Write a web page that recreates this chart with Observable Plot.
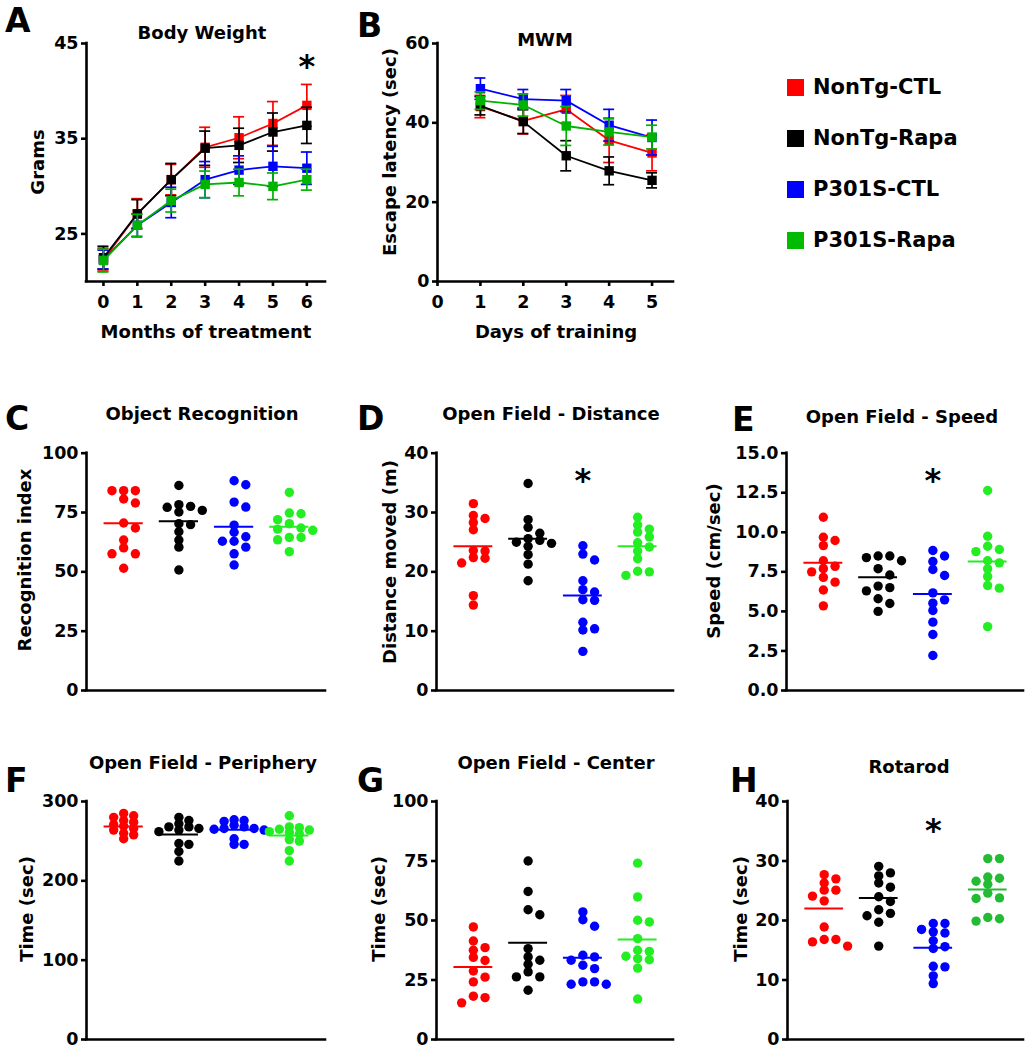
<!DOCTYPE html>
<html><head><meta charset="utf-8">
<script src="https://cdn.jsdelivr.net/npm/d3@7"></script>
<script src="https://cdn.jsdelivr.net/npm/@observablehq/plot@0.6"></script>
<style>
body{margin:0;background:#fff;}
#root{position:relative;width:1031px;height:1050px;overflow:hidden;background:#fff;font-family:"DejaVu Sans",sans-serif;font-weight:bold;color:#000;}
.t{position:absolute;white-space:nowrap;line-height:1;}
.panel{position:absolute;}
</style></head><body><div id="root"></div>
<script>
// ---------- data ----------
const groups = ["NonTg-CTL", "NonTg-Rapa", "P301S-CTL", "P301S-Rapa"];
const lineColors = ["#ff0000", "#000000", "#0000ff", "#00b300"];
const dotColors = ["#ff0000", "#000000", "#0000ff", "#22ee22"];
const rotarodColors = ["#ff0000", "#000000", "#0000ff", "#22bb33"];

// A: Body Weight
const months = [0, 1, 2, 3, 4, 5, 6];
const weightMean = [
  [22.3, 27.1, 30.7, 34.1, 35.1, 36.6, 38.5],
  [22.5, 27.1, 30.7, 34.0, 34.3, 35.7, 36.4],
  [22.3, 25.9, 28.3, 30.7, 31.7, 32.1, 31.9],
  [22.2, 25.9, 28.5, 30.2, 30.4, 30.0, 30.7]
];
const weightSem = [
  [1.2, 1.6, 1.6, 2.1, 2.2, 2.3, 2.2],
  [1.2, 1.5, 1.7, 1.8, 1.8, 2.0, 1.9],
  [1.0, 1.2, 1.6, 1.9, 1.5, 2.1, 1.7],
  [1.2, 1.15, 1.2, 1.4, 1.4, 1.4, 1.1]
];
const monthTicks = [0, 1, 2, 3, 4, 5, 6];
const weightTicks = [25, 35, 45];

// B: MWM
const days = [1, 2, 3, 4, 5];
const latencyMean = [
  [44.1, 40.5, 43.4, 35.6, 32.4],
  [44.3, 40.3, 31.7, 27.9, 25.5],
  [48.6, 46.0, 45.6, 39.4, 36.3],
  [45.6, 44.5, 39.2, 37.7, 36.4]
];
const latencySem = [
  [2.8, 3.3, 3.5, 5.6, 4.5],
  [2.3, 3.0, 3.8, 3.5, 1.9],
  [2.7, 2.4, 2.8, 4.0, 4.4],
  [2.2, 2.8, 4.9, 3.3, 3.0]
];
const dayTicks = [0, 1, 2, 3, 4, 5];
const latencyTicks = [0, 20, 40, 60];

// C: Object Recognition
const objRec = [
  [84.2, 84.2, 84.2, 80.7, 79.0, 70.6, 68.5, 63.4, 60.1, 57.6, 57.6, 51.5],
  [86.4, 78.3, 77.6, 77.2, 75.9, 75.2, 70.3, 69.9, 66.9, 63.4, 60.4, 50.8],
  [88.4, 86.7, 79.4, 77.3, 69.7, 66.7, 64.8, 62.9, 62.9, 60.4, 57.6, 52.9],
  [83.5, 74.8, 74.5, 72.0, 70.3, 68.5, 68.0, 67.5, 64.5, 64.5, 63.5, 58.5]
];
const objRecMean = [70.5, 71.3, 69.0, 69.0];
const pctTicks = [0, 25, 50, 75, 100];

// D: Open Field - Distance
const distance = [
  [31.5, 29.5, 29.0, 28.3, 27.1, 23.6, 23.5, 22.4, 22.3, 21.5, 16.0, 14.4],
  [34.9, 28.8, 27.5, 26.5, 25.6, 25.3, 25.0, 24.8, 24.3, 22.9, 21.3, 18.5],
  [24.4, 23.0, 22.0, 18.5, 17.0, 16.6, 15.3, 15.2, 11.5, 10.4, 10.2, 6.6],
  [29.2, 27.9, 27.2, 26.7, 25.9, 24.9, 24.2, 23.5, 22.2, 20.1, 20.0, 19.4]
];
const distanceMean = [24.3, 25.6, 16.0, 24.3];
const tensTicks = [0, 10, 20, 30, 40];

// E: Open Field - Speed
const speed = [
  [10.95, 9.69, 9.48, 9.16, 8.2, 7.85, 7.7, 7.5, 7.15, 6.85, 6.35, 5.35],
  [8.5, 8.5, 8.4, 8.2, 7.7, 7.3, 6.6, 6.5, 6.3, 5.8, 5.5, 5.0],
  [8.85, 8.5, 8.15, 7.65, 7.27, 6.17, 5.73, 5.52, 5.06, 4.32, 3.54, 2.21],
  [12.64, 9.75, 9.12, 8.91, 8.78, 8.2, 8.07, 7.69, 7.2, 6.64, 6.47, 4.04]
];
const speedMean = [8.07, 7.16, 6.1, 8.15];
const speedTicks = [0, 2.5, 5, 7.5, 10, 12.5, 15];

// F: Open Field - Periphery
const periphery = [
  [285, 282, 280, 276, 274, 271, 269, 266, 264, 260, 258, 253],
  [280, 276, 272, 268, 268, 266, 264, 262, 247, 246, 237, 225],
  [277, 276, 275, 270, 268, 266, 266, 265, 264, 253, 246, 246],
  [282, 268, 267, 265, 264, 262, 261, 259, 252, 250, 238, 225]
];
const peripheryMean = [268.6, 258.5, 264.4, 257.2];
const peripheryTicks = [0, 100, 200, 300];

// G: Open Field - Center
const center = [
  [47.3, 41.4, 38.6, 37.5, 34.5, 33.2, 28.8, 26.2, 24.2, 18.2, 17.6, 15.4],
  [75.0, 62.2, 54.5, 52.4, 38.2, 34.7, 33.3, 31.6, 28.4, 26.3, 26.3, 20.7],
  [53.6, 50.3, 47.6, 35.4, 34.7, 33.3, 31.2, 29.8, 24.2, 24.2, 23.2, 23.2],
  [74.1, 59.9, 50.1, 49.4, 42.4, 37.5, 37.0, 35.0, 34.0, 33.5, 30.0, 17.0]
];
const centerMean = [30.5, 40.6, 34.4, 42.0];

// H: Rotarod
const rotarod = [
  [27.7, 27.0, 26.3, 25.1, 25.1, 24.1, 23.3, 18.9, 16.8, 16.8, 16.4, 15.7],
  [29.1, 28.0, 27.5, 26.3, 25.6, 24.0, 23.2, 21.8, 21.2, 20.8, 19.7, 15.7],
  [19.5, 19.5, 18.5, 18.1, 17.9, 16.6, 15.6, 15.3, 12.3, 12.2, 10.7, 9.4],
  [30.4, 30.4, 27.3, 27.1, 26.6, 26.1, 24.6, 23.8, 23.7, 20.5, 20.3, 19.9]
];
const rotarodMean = [22.0, 23.8, 15.4, 25.2];

// significance marks (x = month / group index, y = value)
const starA = [{x: 6, y: 43.3}];
const starD = [{x: 2, y: 36.5}];
const starE = [{x: 2, y: 13.7}];
const starH = [{x: 2, y: 36.3}];

// ---------- helpers ----------
const root = document.getElementById("root");
const FONT = "'DejaVu Sans', sans-serif";

function addText(txt, x, y, size, opts = {}) {
  const d = document.createElement("div");
  d.className = "t";
  d.textContent = txt;
  d.style.fontSize = size + "px";
  d.style.left = x + "px";
  d.style.top = y + "px";
  const tx = opts.anchor === "start" ? "0" : "-50%";
  d.style.transform = `translate(${tx},-50%)` + (opts.rotate ? ` rotate(${opts.rotate}deg)` : "");
  root.appendChild(d);
}

function place(svg, left, top, width, height) {
  const w = document.createElement("div");
  w.className = "panel";
  w.style.left = left + "px";
  w.style.top = top + "px";
  w.style.width = width + "px";
  w.style.height = height + "px";
  w.appendChild(svg);
  root.appendChild(w);
}

const plotStyle = {fontFamily: FONT, fontWeight: "bold", fontSize: "17px", overflow: "visible", background: "transparent"};
const AXW = 2.6;

function axes(xDomain, yDomain, yTicks, yFmt) {
  return [
    Plot.ruleY([yDomain[0]], {x1: xDomain[0], x2: xDomain[1], strokeWidth: AXW, strokeLinecap: "square"}),
    Plot.ruleX([xDomain[0]], {y1: yDomain[0], y2: yDomain[1], strokeWidth: AXW, strokeLinecap: "square"}),
    Plot.axisY({ticks: yTicks, tickSize: 5, tickPadding: 3, strokeWidth: AXW, fontSize: 17.5, fontWeight: "bold", tickFormat: yFmt, label: null})
  ];
}

function linePanel(o) {
  const marks = [...axes(o.xDomain, o.yDomain, o.yTicks),
    Plot.axisX({ticks: o.xTicks, tickSize: 5, tickPadding: 9, strokeWidth: AXW, fontSize: 17.5, fontWeight: "bold", tickFormat: d => String(d), label: null})];
  o.means.forEach((ms, g) => {
    const rows = o.xs.map((x, i) => ({x, m: ms[i], e: o.sems[g][i]}));
    const c = o.colors[g];
    marks.push(
      Plot.line(rows, {x: "x", y: "m", stroke: c, strokeWidth: 1.8}),
      Plot.ruleX(rows, {x: "x", y1: d => d.m - d.e, y2: d => d.m + d.e, stroke: c, strokeWidth: 1.7}),
      Plot.ruleY(rows, {x1: d => d.x - o.cap, x2: d => d.x + o.cap, y: d => d.m + d.e, stroke: c, strokeWidth: 1.7}),
      Plot.ruleY(rows, {x1: d => d.x - o.cap, x2: d => d.x + o.cap, y: d => d.m - d.e, stroke: c, strokeWidth: 1.7}),
      Plot.dot(rows, {x: "x", y: "m", symbol: "square", r: 5.3, fill: c, stroke: "none"})
    );
  });
  if (o.star) marks.push(Plot.text(o.star, {x: "x", y: "y", text: () => "*", fontSize: 32, fontWeight: "bold", dy: 7}));
  const svg = Plot.plot({
    width: o.width, height: o.height,
    marginLeft: o.ml, marginRight: o.mr, marginTop: o.mt, marginBottom: o.mb,
    x: {domain: o.xDomain}, y: {domain: o.yDomain},
    style: plotStyle, marks
  });
  place(svg, o.left, o.top, o.width, o.height);
}

// column-scatter layout: dots at the same height move to side columns
function swarm(vals, ky, spacing, minGap) {
  const placed = [];
  return vals.map(v => {
    const py = v * ky;
    for (const c of [0, 1, -1, 2, -2, 3, -3, 4, -4]) {
      if (!placed.some(p => p.col === c && Math.abs(p.py - py) < minGap)) {
        placed.push({py, col: c});
        return c * spacing;
      }
    }
    return 0;
  });
}

const groupDomain = [-0.673, 3.655];

function scatterPanel(o) {
  const fw = o.width - o.ml - o.mr, fh = o.height - o.mt - o.mb;
  const kx = fw / (groupDomain[1] - groupDomain[0]);
  const ky = fh / (o.yDomain[1] - o.yDomain[0]);
  const pts = [];
  o.data.forEach((vals, g) => {
    const offs = swarm(vals, ky, o.spacing || 11.7, o.minGap || 7);
    vals.forEach((v, i) => pts.push({x: g + offs[i] / kx, y: v, c: o.colors[g]}));
  });
  const meanRows = o.means.map((m, g) => ({g, m, c: o.colors[g]}));
  const marks = [...axes(groupDomain, o.yDomain, o.yTicks, o.yFmt),
    Plot.dot(pts, {x: "x", y: "y", r: 4.7, fill: "c", stroke: "none"}),
    Plot.ruleY(meanRows, {x1: d => d.g - 0.355, x2: d => d.g + 0.355, y: "m", stroke: "c", strokeWidth: 2})
  ];
  if (o.star) marks.push(Plot.text(o.star, {x: "x", y: "y", text: () => "*", fontSize: 32, fontWeight: "bold", dy: 7}));
  const svg = Plot.plot({
    width: o.width, height: o.height,
    marginLeft: o.ml, marginRight: o.mr, marginTop: o.mt, marginBottom: o.mb,
    x: {domain: groupDomain, axis: null}, y: {domain: o.yDomain},
    color: {type: "identity"},
    style: plotStyle, marks
  });
  place(svg, o.left, o.top, o.width, o.height);
}

// ---------- panels ----------
linePanel({left: 0, top: 0, width: 340, height: 320, ml: 86, mr: 15, mt: 43, mb: 39,
  xs: months, means: weightMean, sems: weightSem, colors: lineColors,
  xDomain: [-0.5, 6.55], yDomain: [20, 45], xTicks: monthTicks, yTicks: weightTicks, cap: 0.163, star: starA});
linePanel({left: 340, top: 0, width: 340, height: 320, ml: 97, mr: 7, mt: 43, mb: 39,
  xs: days, means: latencyMean, sems: latencySem, colors: lineColors,
  xDomain: [0, 5.5], yDomain: [0, 60], xTicks: dayTicks, yTicks: latencyTicks, cap: 0.128});

scatterPanel({left: 0, top: 360, width: 340, height: 340, ml: 86, mr: 15, mt: 92.7, mb: 10,
  data: objRec, means: objRecMean, colors: dotColors, yDomain: [0, 100], yTicks: pctTicks});
scatterPanel({left: 340, top: 360, width: 340, height: 340, ml: 96, mr: 7, mt: 92.7, mb: 10,
  data: distance, means: distanceMean, colors: dotColors, yDomain: [0, 40], yTicks: tensTicks, star: starD});
scatterPanel({left: 680, top: 360, width: 351, height: 340, ml: 106, mr: 8, mt: 92.7, mb: 10,
  data: speed, means: speedMean, colors: dotColors, yDomain: [0, 15], yTicks: speedTicks, yFmt: d3.format(".1f"), star: starE});
scatterPanel({left: 0, top: 700, width: 340, height: 350, ml: 86, mr: 15, mt: 101, mb: 11,
  data: periphery, means: peripheryMean, colors: dotColors, yDomain: [0, 300], yTicks: peripheryTicks, spacing: 10, minGap: 5});
scatterPanel({left: 340, top: 700, width: 340, height: 350, ml: 96, mr: 7, mt: 101, mb: 11,
  data: center, means: centerMean, colors: dotColors, yDomain: [0, 100], yTicks: pctTicks});
scatterPanel({left: 680, top: 700, width: 351, height: 350, ml: 107, mr: 8, mt: 101, mb: 11,
  data: rotarod, means: rotarodMean, colors: rotarodColors, yDomain: [0, 40], yTicks: tensTicks, star: starH});

// ---------- text ----------
const letters = [["A", 5, 20], ["B", 357, 25], ["C", 5, 418], ["D", 357, 418], ["E", 732, 419], ["F", 5, 780], ["G", 357, 780], ["H", 730, 780]];
letters.forEach(([t, x, y]) => addText(t, x, y, 33, {anchor: "start"}));

const titles = [["Body Weight", 202, 33], ["MWM", 545, 40], ["Object Recognition", 202, 414], ["Open Field - Distance", 551, 414],
  ["Open Field - Speed", 902, 417], ["Open Field - Periphery", 203, 763], ["Open Field - Center", 556, 763], ["Rotarod", 909, 767]];
titles.forEach(([t, x, y]) => addText(t, x, y, 18));

const yLabels = [["Grams", 38, 162], ["Escape latency (sec)", 390, 152], ["Recognition index", 25, 560], ["Distance moved (m)", 390, 562],
  ["Speed (cm/sec)", 714, 561], ["Time (sec)", 27, 909], ["Time (sec)", 379, 909], ["Time (sec)", 741, 909]];
yLabels.forEach(([t, x, y]) => addText(t, x, y, 18, {rotate: -90}));

addText("Months of treatment", 206, 332, 18);
addText("Days of training", 556, 332, 18);

// legend
const legendColors = ["#ff0000", "#000000", "#0000ff", "#00bb00"];
const legendY = [87, 138, 189, 240];
groups.forEach((g, i) => {
  const sq = document.createElement("div");
  sq.style.cssText = `position:absolute;left:787px;top:${legendY[i] - 8.5}px;width:17px;height:17px;background:${legendColors[i]};`;
  root.appendChild(sq);
  addText(g, 813, legendY[i], 21, {anchor: "start"});
});
</script>
</body></html>
